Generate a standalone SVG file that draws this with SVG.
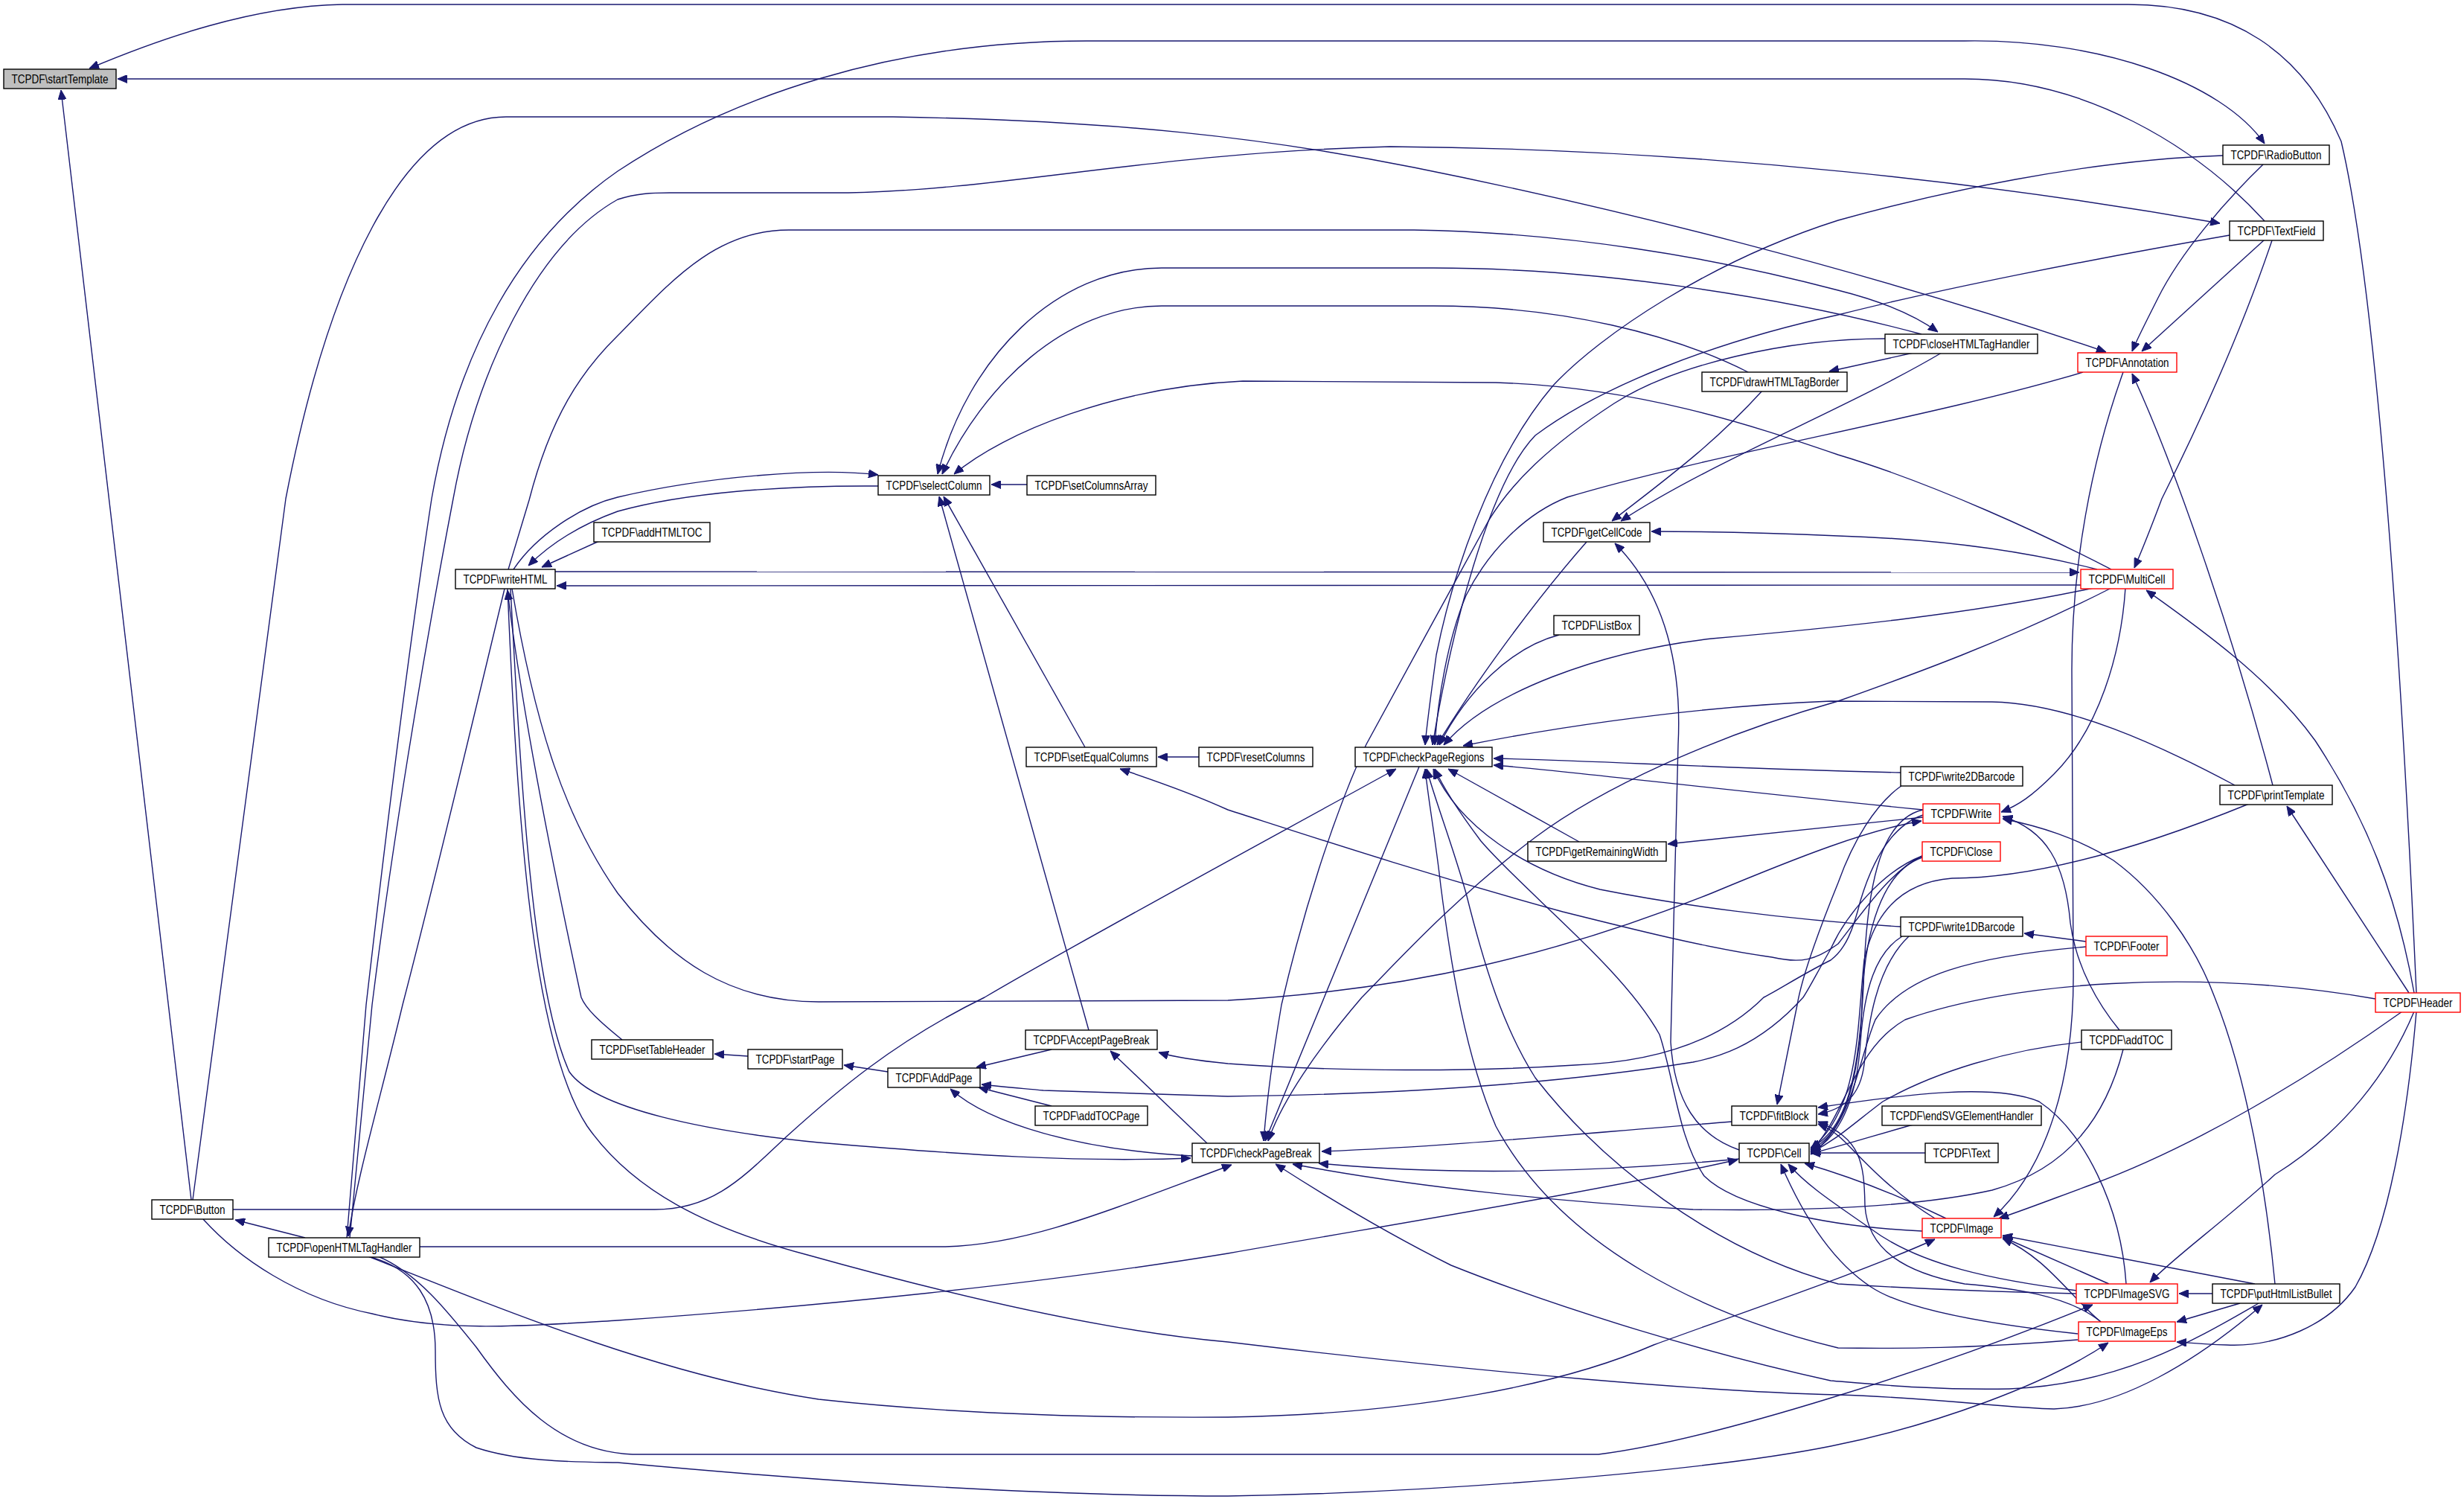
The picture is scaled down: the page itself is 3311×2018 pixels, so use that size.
<svg xmlns="http://www.w3.org/2000/svg" width="3311" height="2018" viewBox="0 0 3311 2018">
<style>
.e{fill:none;stroke:#191970;stroke-width:1.4;marker-end:url(#a)}
.n rect{fill:#fff;stroke:#000;stroke-width:1.4}
.r rect{stroke:#f00}
.g rect{fill:#bfbfbf}
text{font-family:"Liberation Sans",Arial,sans-serif;font-size:16.5px;fill:#000}
</style>
<defs>
<marker id="a" viewBox="0 0 13 11" refX="13" refY="5.5" markerWidth="13" markerHeight="11" markerUnits="userSpaceOnUse" orient="auto"><path d="M0,0 L13,5.5 L0,11 z" fill="#191970" stroke="#191970" stroke-width="1"/></marker>
</defs>
<rect x="0" y="0" width="3311" height="2018" fill="#fff"/>
<g id="edges">
<path class="e" d="M3247,1334 C3232,1000 3200,420 3146,190 C3095,70 3000,6 2860,6 L460,6 C340,8 215,52 120,92"/>
<path class="e" d="M3043,297 C2950,195 2800,106 2640,106 L158,106"/>
<path class="e" d="M257,1612 L82,121"/>
<path class="e" d="M466,1663 L492,1350 C515,1150 545,900 580,670 C615,470 700,320 830,230 C980,130 1200,55 1460,55 L2640,55 C2820,52 2985,110 3043,193"/>
<path class="e" d="M470,1663 L500,1350 C525,1150 565,900 609,670 C640,500 720,330 830,268 C855,260 875,259 900,259 L1140,259 C1350,255 1550,205 1868,197 C2300,200 2700,250 2983,300"/>
<path class="e" d="M259,1612 L384,670 C440,380 540,157 680,157 L1200,157 C1500,162 1700,185 1900,225 C2150,275 2500,360 2830,473"/>
<path class="e" d="M683,765 L711,672 C740,560 780,500 830,451 C900,380 960,309 1060,309 L1900,309 C2100,312 2300,345 2470,390 C2530,405 2575,425 2604,446"/>
<path class="e" d="M2582,449 C2400,400 2150,360 1926,360 L1561,360 C1420,360 1300,480 1260,637"/>
<path class="e" d="M2349,500 C2250,450 2100,411 1926,411 L1561,411 C1430,411 1320,520 1266,637"/>
<path class="e" d="M2837,765 C2750,720 2600,650 2470,611 C2350,570 2200,520 2010,514 L1670,512 C1500,520 1350,580 1282,637"/>
<path class="e" d="M1380,651 L1332,651"/>
<path class="e" d="M1458,1004 L1268,667"/>
<path class="e" d="M1463,1384 L1262,667"/>
<path class="e" d="M690,765 C720,720 780,680 830,668 C950,640 1100,628 1180,638"/>
<path class="e" d="M1180,653 C1050,652 920,662 830,687 C780,705 740,730 710,760"/>
<path class="e" d="M805,727 L728,762"/>
<path class="e" d="M746,768 L2794,769"/>
<path class="e" d="M2796,786 L748,787"/>
<path class="e" d="M678,791 C640,950 580,1200 541,1350 C510,1480 480,1580 468,1661"/>
<path class="e" d="M836,1397 C805,1372 787,1355 781,1340 C740,1150 700,950 682,793"/>
<path class="e" d="M686,791 C700,1050 715,1330 765,1440 C800,1490 950,1520 1100,1535 C1300,1552 1450,1562 1600,1556"/>
<path class="e" d="M682,791 C695,1100 715,1400 789,1513 C850,1600 950,1650 1085,1686 C1300,1746 1500,1790 1650,1803 C2000,1845 2300,1870 2470,1874 C2600,1878 2700,1892 2760,1893 C2850,1890 2950,1830 3040,1753"/>
<path class="e" d="M688,791 C720,980 760,1100 830,1200 C900,1290 980,1346 1100,1346 L1650,1344 C1900,1330 2100,1280 2300,1200 C2420,1150 2510,1115 2582,1103"/>
<path class="e" d="M2856,790 C2850,880 2820,980 2760,1040 C2730,1070 2712,1082 2689,1091"/>
<path class="e" d="M3244,1334 C3220,1200 3180,1100 3111,995 C3050,910 2950,840 2884,793"/>
<path class="e" d="M3053,323 C3000,480 2930,620 2905,670 C2890,710 2878,740 2868,763"/>
<path class="e" d="M3041,221 C2990,270 2930,340 2900,400 C2885,430 2872,455 2865,472"/>
<path class="e" d="M3043,322 L2878,472"/>
<path class="e" d="M3054,1055 C3000,850 2920,620 2865,502"/>
<path class="e" d="M2853,500 C2810,620 2784,760 2784,900 L2786,1300 C2788,1450 2750,1570 2679,1635"/>
<path class="e" d="M2987,209 C2800,215 2600,260 2470,296 C2300,350 2150,450 2087,518 C2000,620 1950,780 1930,880 C1922,940 1917,975 1915,1001"/>
<path class="e" d="M2996,316 C2800,350 2600,390 2470,423 C2300,460 2150,520 2063,585 C2000,650 1950,850 1925,1001"/>
<path class="e" d="M2533,455 C2400,455 2250,490 2169,542 C2080,600 2030,650 2000,700 C1950,790 1880,920 1836,1000 C1790,1100 1750,1230 1722,1350 C1710,1420 1702,1480 1698,1533"/>
<path class="e" d="M2799,500 C2600,560 2300,610 2106,668 C2050,690 2000,740 1970,800 C1945,860 1932,940 1928,1001"/>
<path class="e" d="M2132,728 C2060,810 1980,920 1931,1001"/>
<path class="e" d="M2095,853 C2030,870 1970,930 1934,1001"/>
<path class="e" d="M2813,790 C2650,825 2470,843 2300,858 C2150,875 2000,930 1940,1001"/>
<path class="e" d="M3003,1055 C2900,1000 2780,945 2677,943 L2460,942 C2250,950 2050,985 1966,1002"/>
<path class="e" d="M2554,1038 C2300,1032 2150,1022 2007,1019"/>
<path class="e" d="M2584,1088 C2300,1060 2100,1035 2007,1028"/>
<path class="e" d="M2122,1131 L1946,1033"/>
<path class="e" d="M2554,1245 C2400,1236 2250,1215 2150,1195 C2050,1170 1960,1110 1926,1033"/>
<path class="e" d="M313,1625 L880,1625 C960,1625 1000,1580 1058,1526 C1120,1470 1200,1400 1323,1340 C1450,1265 1700,1130 1876,1033"/>
<path class="e" d="M1907,1030 L1700,1533"/>
<path class="e" d="M2837,790 C2700,860 2560,910 2470,942 C2300,990 2150,1060 2063,1125 C1950,1210 1870,1300 1830,1340 C1770,1410 1722,1480 1704,1533"/>
<path class="e" d="M2327,1507 C2100,1525 1950,1540 1776,1547"/>
<path class="e" d="M2337,1557 C2150,1575 1950,1580 1772,1563"/>
<path class="e" d="M564,1675 L1270,1675 C1380,1672 1480,1630 1655,1565"/>
<path class="e" d="M2853,1410 C2830,1500 2780,1570 2677,1599 C2560,1625 2400,1627 2275,1625 C2100,1615 1900,1595 1737,1564"/>
<path class="e" d="M3035,1751 C2950,1800 2850,1860 2700,1866 C2600,1868 2520,1860 2460,1855 C2300,1820 2100,1760 1950,1700 C1850,1650 1770,1600 1714,1564"/>
<path class="e" d="M1622,1536 L1492,1412"/>
<path class="e" d="M1602,1553 C1450,1545 1330,1510 1277,1463"/>
<path class="e" d="M1413,1410 L1312,1434"/>
<path class="e" d="M1413,1486 L1315,1461"/>
<path class="e" d="M2583,1150 C2530,1170 2480,1230 2460,1275 C2440,1310 2430,1330 2423,1340 C2360,1410 2300,1422 2275,1427 C2100,1455 1900,1470 1650,1473 L1402,1465 C1370,1462 1345,1460 1319,1457"/>
<path class="e" d="M2584,1095 C2540,1110 2515,1160 2500,1210 C2490,1250 2480,1275 2460,1290 C2420,1310 2390,1330 2370,1340 C2300,1410 2200,1428 2116,1431 C1980,1440 1800,1440 1650,1429 C1600,1424 1570,1418 1557,1414"/>
<path class="e" d="M1193,1440 L1134,1431"/>
<path class="e" d="M1005,1419 L960,1416"/>
<path class="e" d="M1611,1017 L1556,1017"/>
<path class="e" d="M2583,1150 C2540,1170 2500,1230 2470,1268 C2440,1290 2420,1295 2381,1286 C2300,1275 2200,1250 2100,1225 C1900,1170 1750,1120 1650,1088 C1600,1065 1550,1048 1505,1033"/>
<path class="e" d="M2571,474 L2458,499"/>
<path class="e" d="M2368,525 C2300,600 2230,650 2166,700"/>
<path class="e" d="M2609,474 C2480,550 2300,620 2178,700"/>
<path class="e" d="M2818,765 C2720,740 2600,724 2470,720 C2380,716 2300,714 2219,714"/>
<path class="e" d="M2337,1545 C2280,1525 2250,1480 2245,1400 L2255,1000 C2260,900 2240,800 2170,730"/>
<path class="e" d="M273,1638 C320,1690 400,1745 500,1765 C600,1790 700,1782 830,1774 C1100,1755 1400,1725 1650,1684 C1900,1640 2150,1600 2335,1558"/>
<path class="e" d="M495,1688 C700,1770 900,1850 1100,1880 C1300,1902 1500,1905 1650,1904 C1900,1900 2100,1860 2222,1807 C2350,1760 2500,1710 2600,1665"/>
<path class="e" d="M508,1688 C560,1710 600,1760 640,1810 C690,1880 750,1950 850,1954 L2148,1954 C2300,1935 2600,1840 2812,1753"/>
<path class="e" d="M495,1688 C560,1705 585,1750 585,1815 C585,1880 590,1920 640,1945 C700,1965 780,1964 830,1965 C1100,1990 1400,2010 1650,2010 C1950,2005 2300,1975 2460,1943 C2600,1915 2750,1860 2833,1804"/>
<path class="e" d="M410,1663 L316,1639"/>
<path class="e" d="M2556,1055 C2520,1080 2490,1130 2470,1186 C2440,1260 2420,1320 2415,1350 L2388,1484"/>
<path class="e" d="M2584,1088 C2530,1100 2510,1180 2505,1300 C2500,1450 2480,1520 2433,1542"/>
<path class="e" d="M2583,1152 C2530,1170 2505,1250 2502,1350 C2498,1460 2475,1525 2433,1545"/>
<path class="e" d="M2556,1258 C2520,1280 2505,1330 2500,1400 C2495,1480 2470,1530 2433,1548"/>
<path class="e" d="M2803,1272 C2650,1285 2560,1310 2520,1370 C2495,1430 2490,1510 2433,1551"/>
<path class="e" d="M3192,1342 C2950,1300 2700,1320 2560,1370 C2490,1410 2480,1500 2433,1547"/>
<path class="e" d="M3022,1080 C2850,1150 2720,1180 2623,1180 C2560,1185 2520,1220 2505,1290 C2495,1380 2500,1490 2433,1544"/>
<path class="e" d="M2797,1400 C2700,1410 2600,1440 2530,1480 C2490,1510 2470,1530 2433,1549"/>
<path class="e" d="M2571,1511 C2520,1525 2480,1538 2433,1550"/>
<path class="e" d="M2587,1549 L2433,1549"/>
<path class="e" d="M2600,1637 C2540,1600 2505,1560 2480,1535 C2465,1520 2455,1515 2443,1510"/>
<path class="e" d="M2857,1725 C2850,1620 2800,1520 2740,1480 C2680,1455 2560,1470 2443,1488"/>
<path class="e" d="M2823,1776 C2780,1740 2700,1730 2640,1725 C2560,1710 2510,1680 2506,1620 C2505,1560 2500,1530 2443,1507"/>
<path class="e" d="M2565,1258 C2520,1300 2510,1380 2505,1430 C2500,1470 2480,1490 2443,1497"/>
<path class="e" d="M3228,1359 C3100,1450 2950,1540 2812,1591 C2760,1610 2730,1622 2686,1637"/>
<path class="e" d="M3244,1359 C3210,1440 3150,1520 3057,1578 C2990,1640 2920,1690 2889,1723"/>
<path class="e" d="M3247,1359 C3235,1500 3210,1650 3165,1729 C3130,1780 3060,1810 2992,1807 C2960,1806 2940,1804 2925,1803"/>
<path class="e" d="M3030,1725 L2691,1660"/>
<path class="e" d="M2834,1725 L2691,1662"/>
<path class="e" d="M2823,1776 C2780,1740 2750,1690 2691,1664"/>
<path class="e" d="M2973,1738 L2928,1738"/>
<path class="e" d="M3010,1751 L2925,1776"/>
<path class="e" d="M3057,1725 C3045,1600 3020,1450 2976,1340 C2950,1270 2900,1200 2840,1156 C2790,1125 2740,1110 2691,1100"/>
<path class="e" d="M2848,1384 C2820,1350 2790,1300 2782,1240 C2775,1160 2750,1115 2691,1097"/>
<path class="e" d="M2803,1265 L2720,1254"/>
<path class="e" d="M3237,1334 L3073,1083"/>
<path class="e" d="M2584,1098 L2241,1134"/>
<path class="e" d="M2791,1734 C2680,1720 2580,1700 2514,1651 C2470,1620 2430,1595 2403,1564"/>
<path class="e" d="M2792,1792 C2680,1780 2560,1760 2514,1729 C2470,1700 2430,1650 2393,1564"/>
<path class="e" d="M2615,1637 C2570,1615 2500,1585 2425,1563"/>
<path class="e" d="M2583,1654 C2450,1648 2330,1620 2290,1580 C2255,1530 2250,1450 2230,1390 C2180,1300 2050,1200 1990,1130 C1960,1090 1940,1060 1928,1033"/>
<path class="e" d="M2790,1738 C2650,1735 2550,1730 2470,1725 C2300,1680 2150,1560 2063,1448 C2020,1380 1995,1300 1970,1200 C1950,1130 1930,1080 1917,1033"/>
<path class="e" d="M2792,1800 C2650,1812 2550,1812 2470,1811 C2300,1770 2100,1680 2010,1513 C1970,1420 1950,1300 1936,1190 C1928,1120 1920,1080 1915,1033"/>
</g>
<g id="n_startTemplate" class="n g"><rect x="5" y="93" width="151" height="26"/><text x="15.5" y="111.5" textLength="130" lengthAdjust="spacingAndGlyphs">TCPDF\startTemplate</text></g>
<g id="n_RadioButton" class="n"><rect x="2987" y="195" width="143" height="26"/><text x="2997.5" y="213.5" textLength="122" lengthAdjust="spacingAndGlyphs">TCPDF\RadioButton</text></g>
<g id="n_TextField" class="n"><rect x="2996" y="297" width="126" height="26"/><text x="3006.5" y="315.5" textLength="105" lengthAdjust="spacingAndGlyphs">TCPDF\TextField</text></g>
<g id="n_closeHTMLTagHandler" class="n"><rect x="2533" y="449" width="205" height="26"/><text x="2543.5" y="467.5" textLength="184" lengthAdjust="spacingAndGlyphs">TCPDF\closeHTMLTagHandler</text></g>
<g id="n_Annotation" class="n r"><rect x="2792" y="474" width="133" height="26"/><text x="2802.5" y="492.5" textLength="112" lengthAdjust="spacingAndGlyphs">TCPDF\Annotation</text></g>
<g id="n_drawHTMLTagBorder" class="n"><rect x="2287" y="500" width="195" height="26"/><text x="2297.5" y="518.5" textLength="174" lengthAdjust="spacingAndGlyphs">TCPDF\drawHTMLTagBorder</text></g>
<g id="n_selectColumn" class="n"><rect x="1180" y="639" width="150" height="26"/><text x="1190.5" y="657.5" textLength="129" lengthAdjust="spacingAndGlyphs">TCPDF\selectColumn</text></g>
<g id="n_setColumnsArray" class="n"><rect x="1380" y="639" width="173" height="26"/><text x="1390.5" y="657.5" textLength="152" lengthAdjust="spacingAndGlyphs">TCPDF\setColumnsArray</text></g>
<g id="n_getCellCode" class="n"><rect x="2074" y="702" width="143" height="26"/><text x="2084.5" y="720.5" textLength="122" lengthAdjust="spacingAndGlyphs">TCPDF\getCellCode</text></g>
<g id="n_addHTMLTOC" class="n"><rect x="798" y="702" width="156" height="26"/><text x="808.5" y="720.5" textLength="135" lengthAdjust="spacingAndGlyphs">TCPDF\addHTMLTOC</text></g>
<g id="n_writeHTML" class="n"><rect x="612" y="765" width="134" height="26"/><text x="622.5" y="783.5" textLength="113" lengthAdjust="spacingAndGlyphs">TCPDF\writeHTML</text></g>
<g id="n_MultiCell" class="n r"><rect x="2796" y="765" width="124" height="26"/><text x="2806.5" y="783.5" textLength="103" lengthAdjust="spacingAndGlyphs">TCPDF\MultiCell</text></g>
<g id="n_ListBox" class="n"><rect x="2088" y="827" width="115" height="26"/><text x="2098.5" y="845.5" textLength="94" lengthAdjust="spacingAndGlyphs">TCPDF\ListBox</text></g>
<g id="n_setEqualColumns" class="n"><rect x="1379" y="1004" width="175" height="26"/><text x="1389.5" y="1022.5" textLength="154" lengthAdjust="spacingAndGlyphs">TCPDF\setEqualColumns</text></g>
<g id="n_resetColumns" class="n"><rect x="1611" y="1004" width="153" height="26"/><text x="1621.5" y="1022.5" textLength="132" lengthAdjust="spacingAndGlyphs">TCPDF\resetColumns</text></g>
<g id="n_checkPageRegions" class="n"><rect x="1821" y="1004" width="184" height="26"/><text x="1831.5" y="1022.5" textLength="163" lengthAdjust="spacingAndGlyphs">TCPDF\checkPageRegions</text></g>
<g id="n_write2DBarcode" class="n"><rect x="2554" y="1030" width="164" height="26"/><text x="2564.5" y="1048.5" textLength="143" lengthAdjust="spacingAndGlyphs">TCPDF\write2DBarcode</text></g>
<g id="n_printTemplate" class="n"><rect x="2983" y="1055" width="151" height="26"/><text x="2993.5" y="1073.5" textLength="130" lengthAdjust="spacingAndGlyphs">TCPDF\printTemplate</text></g>
<g id="n_Write" class="n r"><rect x="2584" y="1080" width="103" height="26"/><text x="2594.5" y="1098.5" textLength="82" lengthAdjust="spacingAndGlyphs">TCPDF\Write</text></g>
<g id="n_Close" class="n r"><rect x="2583" y="1131" width="105" height="26"/><text x="2593.5" y="1149.5" textLength="84" lengthAdjust="spacingAndGlyphs">TCPDF\Close</text></g>
<g id="n_getRemainingWidth" class="n"><rect x="2053" y="1131" width="186" height="26"/><text x="2063.5" y="1149.5" textLength="165" lengthAdjust="spacingAndGlyphs">TCPDF\getRemainingWidth</text></g>
<g id="n_write1DBarcode" class="n"><rect x="2554" y="1232" width="164" height="26"/><text x="2564.5" y="1250.5" textLength="143" lengthAdjust="spacingAndGlyphs">TCPDF\write1DBarcode</text></g>
<g id="n_Footer" class="n r"><rect x="2803" y="1258" width="109" height="26"/><text x="2813.5" y="1276.5" textLength="88" lengthAdjust="spacingAndGlyphs">TCPDF\Footer</text></g>
<g id="n_Header" class="n r"><rect x="3192" y="1334" width="114" height="26"/><text x="3202.5" y="1352.5" textLength="93" lengthAdjust="spacingAndGlyphs">TCPDF\Header</text></g>
<g id="n_AcceptPageBreak" class="n"><rect x="1378" y="1384" width="177" height="26"/><text x="1388.5" y="1402.5" textLength="156" lengthAdjust="spacingAndGlyphs">TCPDF\AcceptPageBreak</text></g>
<g id="n_addTOC" class="n"><rect x="2797" y="1384" width="121" height="26"/><text x="2807.5" y="1402.5" textLength="100" lengthAdjust="spacingAndGlyphs">TCPDF\addTOC</text></g>
<g id="n_setTableHeader" class="n"><rect x="795" y="1397" width="163" height="26"/><text x="805.5" y="1415.5" textLength="142" lengthAdjust="spacingAndGlyphs">TCPDF\setTableHeader</text></g>
<g id="n_startPage" class="n"><rect x="1005" y="1410" width="127" height="26"/><text x="1015.5" y="1428.5" textLength="106" lengthAdjust="spacingAndGlyphs">TCPDF\startPage</text></g>
<g id="n_AddPage" class="n"><rect x="1193" y="1435" width="124" height="26"/><text x="1203.5" y="1453.5" textLength="103" lengthAdjust="spacingAndGlyphs">TCPDF\AddPage</text></g>
<g id="n_addTOCPage" class="n"><rect x="1391" y="1486" width="151" height="26"/><text x="1401.5" y="1504.5" textLength="130" lengthAdjust="spacingAndGlyphs">TCPDF\addTOCPage</text></g>
<g id="n_fitBlock" class="n"><rect x="2327" y="1486" width="114" height="26"/><text x="2337.5" y="1504.5" textLength="93" lengthAdjust="spacingAndGlyphs">TCPDF\fitBlock</text></g>
<g id="n_endSVGElementHandler" class="n"><rect x="2529" y="1486" width="214" height="26"/><text x="2539.5" y="1504.5" textLength="193" lengthAdjust="spacingAndGlyphs">TCPDF\endSVGElementHandler</text></g>
<g id="n_checkPageBreak" class="n"><rect x="1602" y="1536" width="171" height="26"/><text x="1612.5" y="1554.5" textLength="150" lengthAdjust="spacingAndGlyphs">TCPDF\checkPageBreak</text></g>
<g id="n_Cell" class="n"><rect x="2337" y="1536" width="94" height="26"/><text x="2347.5" y="1554.5" textLength="73" lengthAdjust="spacingAndGlyphs">TCPDF\Cell</text></g>
<g id="n_Text" class="n"><rect x="2587" y="1536" width="98" height="26"/><text x="2597.5" y="1554.5" textLength="77" lengthAdjust="spacingAndGlyphs">TCPDF\Text</text></g>
<g id="n_Button" class="n"><rect x="204" y="1612" width="109" height="26"/><text x="214.5" y="1630.5" textLength="88" lengthAdjust="spacingAndGlyphs">TCPDF\Button</text></g>
<g id="n_Image" class="n r"><rect x="2583" y="1637" width="106" height="26"/><text x="2593.5" y="1655.5" textLength="85" lengthAdjust="spacingAndGlyphs">TCPDF\Image</text></g>
<g id="n_openHTMLTagHandler" class="n"><rect x="361" y="1663" width="203" height="26"/><text x="371.5" y="1681.5" textLength="182" lengthAdjust="spacingAndGlyphs">TCPDF\openHTMLTagHandler</text></g>
<g id="n_ImageSVG" class="n r"><rect x="2790" y="1725" width="136" height="26"/><text x="2800.5" y="1743.5" textLength="115" lengthAdjust="spacingAndGlyphs">TCPDF\ImageSVG</text></g>
<g id="n_putHtmlListBullet" class="n"><rect x="2973" y="1725" width="171" height="26"/><text x="2983.5" y="1743.5" textLength="150" lengthAdjust="spacingAndGlyphs">TCPDF\putHtmlListBullet</text></g>
<g id="n_ImageEps" class="n r"><rect x="2793" y="1776" width="130" height="26"/><text x="2803.5" y="1794.5" textLength="109" lengthAdjust="spacingAndGlyphs">TCPDF\ImageEps</text></g>
</svg>
